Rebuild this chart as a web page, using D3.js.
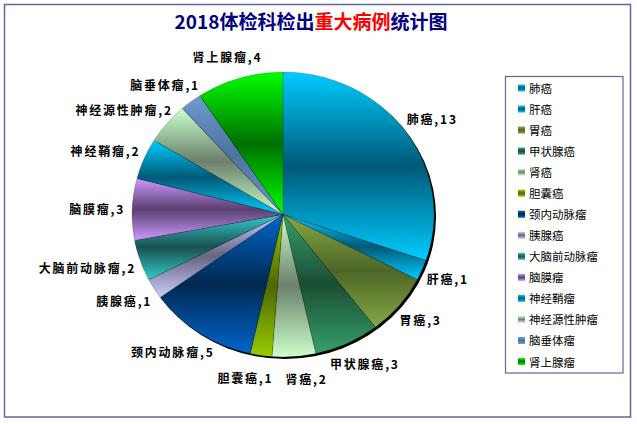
<!DOCTYPE html>
<html>
<head>
<meta charset="utf-8">
<script src="https://cdn.jsdelivr.net/npm/d3@7"></script>
<style>
  body { margin: 0; background: #fff; }
  svg text { font-family: "Noto Sans CJK SC", "DejaVu Sans", sans-serif; }
</style>
</head>
<body>
<svg id="chart"></svg>
<script>
// data
const categories = ['肺癌', '肝癌', '胃癌', '甲状腺癌', '肾癌', '胆囊癌', '颈内动脉瘤',
  '胰腺癌', '大脑前动脉瘤', '脑膜瘤', '神经鞘瘤', '神经源性肿瘤', '脑垂体瘤', '肾上腺瘤'];
const counts = [13, 1, 3, 3, 2, 1, 5, 1, 2, 3, 2, 2, 1, 4];
const lightColors = ['#00ccff', '#00ccff', '#86a844', '#36a06c', '#ccffcc', '#99cc00', '#0066cc',
  '#ccccff', '#33cccc', '#cc99ff', '#00ccff', '#ccffcc', '#6c9ad0', '#00ff00'];
const darkColors = ['#005a78', '#005a78', '#4d6626', '#1a4d33', '#6b806b', '#4d6600', '#002850',
  '#66667f', '#1a5050', '#5a4070', '#005a78', '#6b806b', '#4d73a0', '#007000'];
const titleParts = [['2018体检科检出', '#000080'], ['重大病例', '#ff0000'], ['统计图', '#000080']];

const width = 637, height = 424;
const cx = 283, cy = 214.5, rx = 151, ry = 142.5;

const svg = d3.select('#chart')
  .attr('width', width)
  .attr('height', height);

const defs = svg.append('defs');
categories.forEach((c, i) => {
  const g = defs.append('linearGradient')
    .attr('id', 'grad' + i)
    .attr('x1', 0).attr('y1', 0).attr('x2', 0).attr('y2', 1);
  g.append('stop').attr('offset', '0%').attr('stop-color', lightColors[i]);
  g.append('stop').attr('offset', '50%').attr('stop-color', darkColors[i]);
  g.append('stop').attr('offset', '100%').attr('stop-color', lightColors[i]);
});

// outer frame
svg.append('rect')
  .attr('x', 4.5).attr('y', 4.5)
  .attr('width', 626).attr('height', 412.5)
  .attr('fill', '#fff')
  .attr('stroke', '#6464a0')
  .attr('stroke-width', 1.5);

// title
const title = svg.append('text')
  .attr('x', 311).attr('y', 29)
  .attr('text-anchor', 'middle')
  .attr('font-size', 19)
  .attr('font-weight', 'bold');
titleParts.forEach(p => {
  title.append('tspan').attr('fill', p[1]).text(p[0]);
});

// pie
const pie = d3.pie().sort(null).value(d => d)
  .startAngle(0).endAngle(2 * Math.PI);
const arcs = pie(counts);
const arc = d3.arc().innerRadius(0).outerRadius(rx);

const pieG = svg.append('g')
  .attr('transform', `translate(${cx},${cy}) scale(1,${ry / rx})`);

pieG.append('circle')
  .attr('cx', 2).attr('cy', 2.2).attr('r', rx)
  .attr('fill', '#000');

pieG.selectAll('path.slice')
  .data(arcs).enter().append('path')
  .attr('class', 'slice')
  .attr('d', arc)
  .attr('fill', (d, i) => `url(#grad${i})`)
  .attr('stroke', 'rgba(0,0,0,0.35)')
  .attr('stroke-width', 0.5);

// data labels, placed outside the pie then spread apart where they collide
const labelR = 158;
const labelG = svg.append('g');
const labels = arcs.map((d, i) => {
  const a = (d.startAngle + d.endAngle) / 2;
  const t = labelG.append('text')
    .attr('font-size', 12)
    .attr('font-weight', 'bold')
    .attr('letter-spacing', 1.8)
    .attr('fill', '#000')
    .attr('text-anchor', 'middle')
    .attr('dominant-baseline', 'central')
    .text(`${categories[i]},${counts[i]}`);
  const w = t.node().getComputedTextLength();
  const h = 13;
  const px = cx + labelR * Math.sin(a), py = cy - labelR * Math.cos(a);
  return {t, w, h, x: px + w / 2 * Math.sin(a), y: py - h / 2 * Math.cos(a)};
});

for (let iter = 0; iter < 60; iter++) {
  for (let i = 0; i < labels.length; i++) {
    for (let j = i + 1; j < labels.length; j++) {
      const A = labels[i], B = labels[j];
      const ox = (A.w + B.w) / 2 + 12 - Math.abs(A.x - B.x);
      const oy = (A.h + B.h) / 2 + 2 - Math.abs(A.y - B.y);
      if (ox > 0 && oy > 0) {
        if (ox < oy * 3) {
          const s = A.x < B.x ? -1 : 1;
          A.x += s * ox / 2; B.x -= s * ox / 2;
        } else {
          const s = A.y < B.y ? -1 : 1;
          A.y += s * oy / 2; B.y -= s * oy / 2;
        }
      }
    }
  }
}
labels.forEach(l => l.t.attr('x', l.x).attr('y', l.y));

// legend
const legend = svg.append('g');
legend.append('rect')
  .attr('x', 505.5).attr('y', 76.5)
  .attr('width', 117.5).attr('height', 296.5)
  .attr('fill', '#fff')
  .attr('stroke', '#6464a0')
  .attr('stroke-width', 1.2);

const legendY = d3.scalePoint().domain(categories).range([88, 361.5]);
const item = legend.selectAll('g.item')
  .data(categories).enter().append('g')
  .attr('class', 'item')
  .attr('transform', d => `translate(518,${legendY(d)})`);
item.append('rect')
  .attr('x', 0).attr('y', -3.5)
  .attr('width', 7).attr('height', 7)
  .attr('fill', (d, i) => `url(#grad${i})`);
item.append('text')
  .attr('x', 11).attr('y', 0)
  .attr('dominant-baseline', 'central')
  .attr('font-size', 11.5)
  .attr('fill', '#000')
  .text(d => d);
</script>
</body>
</html>
